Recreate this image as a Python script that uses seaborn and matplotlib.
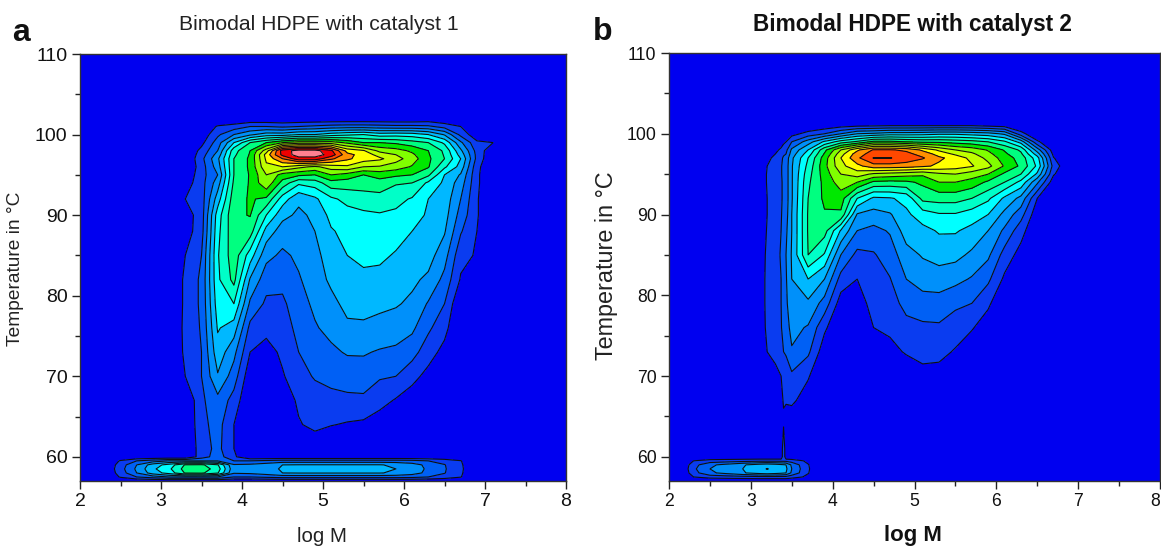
import numpy as np
import seaborn as sns
import matplotlib.pyplot as plt

# temperature rows shared by both maps
temps = [57, 57.5, 58, 58.5, 59, 59.5, 60, 61, 64, 67, 70, 73, 76, 79, 82, 85, 88, 90, 92, 94, 95, 96, 97, 97.5, 98, 99, 100, 101, 102, 110]

# panel a, one list per log M column, in contour level units
logm_a = [2, 2.3, 2.5, 2.7, 2.9, 3.1, 3.3, 3.5, 3.7, 3.9, 4.1, 4.3, 4.5, 4.7, 4.9, 5.1, 5.3, 5.5, 5.7, 5.9, 6.1, 6.3, 6.5, 6.7, 6.9, 7.1, 7.3, 8]
z_a = [
    [0] * 30,
    [0] * 30,
    [0, 1.1, 1.45, 1.6, 1.45, 1.1, 0, 0] + [0] * 22,
    [0, 2, 3.0, 3.2, 3.0, 2, 0, 0] + [0] * 22,
    [0, 2.5, 4.5, 4.8, 4.5, 2.5, 0, 0] + [0] * 22,
    [0, 3, 5.4, 5.8, 5.4, 3, 0, 0] + [0] * 22,
    [0, 3, 7.1, 7.4, 7.1, 3, 0, 0, 0, 0, 1, 1.2, 1.25, 1.2, 1.2, 1, .5, .5, 1, .5, .2, 0, 0, 0, 0, 0, 0, 0, 0, 0],
    [0, 3, 7.2, 7.6, 7.2, 3, 1.5, 1.5, 1.7, 1.8, 2, 2, 2.1, 2.2, 2.2, 2, 1.6, 1.5, 1.5, 1.6, 1.6, 1.5, 1.7, 1.5, 1.3, .7, .3, .2, 0, 0],
    [0, 3, 6.1, 6.5, 6.1, 3, 2.5, 2.3, 2.4, 2.7, 3.9, 4.6, 5.1, 5.5, 5.8, 5.9, 5.7, 5.5, 4.5, 3.5, 3, 3.5, 3.8, 3.4, 3, 2.5, 1.8, 1.1, 0, 0],
    [0, 2, 3.1, 3.3, 3.1, 2, 1.2, 1, 1, 1.6, 2.5, 3.3, 4.5, 6, 7.3, 7.6, 7.7, 7.8, 7.6, 7.2, 7, 7, 7, 6.8, 6.6, 5, 3, 1.4, 0, 0],
    [0, 2, 3.2, 3.4, 3.2, 2, 0, 0, 0, 0, .3, 1, 1.7, 2.8, 3.9, 5.5, 7.5, 8.05, 8.1, 8.1, 8.1, 8.2, 8.2, 8.1, 8, 7, 3.8, 2, 0, 0],
    [0, 2.2, 3.5, 3.7, 3.5, 2.2, 0, 0, 0, 0, 0, .6, 1.3, 1.8, 2.4, 3.3, 4.6, 6, 7.8, 9.8, 10, 10.8, 11.2, 11.4, 10.5, 8, 4.5, 2, 0, 0],
    [0, 2.4, 4, 4.1, 4, 2.4, 0, 0, 0, .3, .9, 1.2, 1.5, 1.8, 2.3, 2.8, 3.5, 4.3, 5.5, 7.6, 8.6, 11, 13, 14.3, 14.5, 9, 4.5, 1.8, 0, 0],
    [0, 2.4, 4.05, 4.2, 4.05, 2.4, 0, 0, .9, 1.2, 1.6, 2, 2.3, 2.6, 2.9, 3.2, 3.5, 3.8, 4.2, 6.2, 8.2, 10.3, 14.6, 15.5, 15.4, 9.5, 5, 2, 0, 0],
    [0, 2.4, 4.05, 4.2, 4.05, 2.4, 0, .2, 1.3, 1.5, 2.1, 2.5, 2.9, 3.2, 3.5, 3.7, 4, 4.2, 4.8, 6.5, 8, 9.8, 14.6, 15.5, 15.4, 9.5, 5, 2.2, 0, 0],
    [0, 2.4, 4.05, 4.2, 4.05, 2.4, 0, 0, 1.05, 1.7, 2.3, 2.8, 3.3, 3.7, 4.2, 4.5, 4.9, 5.3, 5.8, 7.6, 9, 10.5, 13.2, 14.6, 14.2, 9.5, 5.5, 2.4, 0, 0],
    [0, 2.4, 4.05, 4.2, 4.05, 2.4, 0, 0, .9, 1.8, 2.4, 3.1, 3.8, 4.3, 4.7, 5, 5.3, 5.6, 6.3, 7.5, 8.6, 10.8, 12.2, 12.3, 11.6, 8.8, 5.8, 2.5, 0, 0],
    [0, 2.4, 4.05, 4.2, 4.05, 2.4, 0, 0, .8, 1.8, 2.5, 3.1, 3.8, 4.4, 4.9, 5.1, 5.4, 5.8, 6.5, 7.5, 8, 10, 11.5, 11.6, 11.1, 8, 6, 2.5, 0, 0],
    [0, 2.4, 4.05, 4.2, 4.05, 2.4, 0, 0, .4, 1.4, 2.1, 2.9, 3.7, 4.2, 4.7, 5.2, 5.6, 5.9, 6.6, 7.6, 8.4, 9.9, 11.2, 10.6, 9.7, 8, 5.5, 2.4, 0, 0],
    [0, 2.4, 3.85, 4, 3.85, 2.4, 0, 0, 0, .9, 2, 2.8, 3.5, 4.1, 4.5, 4.9, 5.4, 5.8, 6.3, 7.1, 8.2, 9.5, 10.4, 10, 9.4, 7.8, 5.6, 2.3, 0, 0],
    [0, 2.3, 3.45, 3.6, 3.45, 2.3, 0, 0, 0, .5, 1.3, 2.4, 3.2, 3.8, 4.2, 4.6, 5, 5.3, 5.9, 7, 8, 8.9, 9.5, 9.2, 8.8, 7.4, 5.5, 2.3, 0, 0],
    [0, 2, 2.7, 2.8, 2.7, 2, 0, 0, 0, 0, .7, 1.4, 2.2, 2.9, 3.8, 4.4, 4.7, 4.9, 5, 5.8, 7.2, 8.1, 8.2, 8.1, 8, 7, 5, 2.2, .2, 0],
    [0, 1.6, 2.05, 2.1, 2.05, 1.6, 0, 0, 0, 0, 0, .7, 1.3, 2, 2.7, 3.4, 4.1, 4.4, 4.6, 4.8, 5, 6.2, 7, 6.9, 6.8, 5.8, 3.9, 1.6, 0, 0],
    [0, 1.05, 1.15, 1.2, 1.15, 1.05, 0, 0, 0, 0, 0, 0, 0, 0, .9, 1.3, 2.1, 2.6, 3, 3.5, 3.9, 4.6, 5, 4.6, 4.2, 3.2, 1.7, 1, 0, 0],
    [0, 0, 0, 0, 0, 0, 0, 0, 0, 0, 0, 0, 0, 0, 0, .9, 1, 1.1, 1.1, 1.2, 1.2, 1.3, 1.7, 1.7, 1.6, 1.2, .3, 0, 0, 0],
    [0, 0, 0, 0, 0, 0, 0, 0, 0, 0, 0, 0, 0, 0, 0, 0, 0, 0, 0, 0, 0, 0, 0, .1, .3, 1, 0, 0, 0, 0],
    [0] * 30,
    [0] * 30,
]

# panel b
logm_b = [2, 2.15, 2.3, 2.5, 2.7, 2.9, 3.1, 3.2, 3.3, 3.37, 3.4, 3.43, 3.5, 3.7, 3.9, 4.1, 4.3, 4.5, 4.7, 4.9, 5.1, 5.3, 5.5, 5.7, 5.9, 6.1, 6.3, 6.5, 6.7, 6.9, 8]
z_b = [
    [0] * 30,
    [0] * 30,
    [0, 1, 1.6, 1.8, 1.6, 1, 0, 0] + [0] * 22,
    [0, 1.4, 2.8, 3, 2.8, 1.4, 0, 0] + [0] * 22,
    [0, 1.5, 3.3, 3.5, 3.3, 1.5, 0, 0] + [0] * 22,
    [0, 1.6, 3.9, 4, 3.9, 1.6, 0, 0] + [0] * 22,
    [0, 1.7, 4.4, 4.7, 4.4, 1.7, 0, 0] + [0] * 22,
    [0, 1.7, 4.6, 5.05, 4.6, 1.7, 0, 0, 0, 0, .4, 1, 1.3, 1.4, 1.4, 1.3, 1.1, 1, 1, 1.1, 1.1, 1, .8, .6, .4, 0, 0, 0, 0, 0],
    [0, 1.7, 4.4, 4.7, 4.4, 1.7, 0, 0, 0, 0, .7, 1.3, 1.6, 1.7, 1.7, 1.6, 1.4, 1.3, 1.3, 1.5, 1.5, 1.4, 1.2, 1, .8, .3, 0, 0, 0, 0],
    [0, 1.7, 4.2, 4.4, 4.2, 1.7, 0, 0, 0, .85, 1, 1.5, 1.9, 2, 2, 2.1, 2, 1.9, 1.8, 1.8, 1.9, 1.9, 1.7, 1.4, 1.15, .6, 0, 0, 0, 0],
    [0, 1.7, 4.1, 4.3, 4.1, 1.7, 2, 1.9, .9, 1.05, 1.5, 2, 2.5, 2.6, 2.7, 2.8, 2.6, 2.4, 2.3, 2.3, 2.3, 2.3, 2.2, 1.8, 1.5, .8, .1, 0, 0, 0],
    [0, 1.7, 4, 4.2, 4, 1.7, 0, 0, .5, 1.1, 1.5, 2.1, 2.6, 2.8, 2.9, 3, 2.8, 2.6, 2.5, 2.5, 2.5, 2.5, 2.4, 2, 1.7, 1, .2, 0, 0, 0],
    [0, 1.4, 2.8, 3, 2.8, 1.5, 0, 0, .3, 1.2, 1.8, 2.9, 3.3, 3.7, 4, 4.1, 4, 4, 3.9, 3.9, 3.9, 3.9, 3.8, 3.5, 3.2, 2, .6, 0, 0, 0],
    [0, .8, 1.05, 1.1, 1.05, .8, 0, 0, 0, .5, 1.1, 2.2, 2.9, 3.8, 5, 7, 7.1, 7.1, 7, 6.8, 6.6, 6.3, 6, 5.5, 5, 3.5, 1.4, 0, 0, 0],
    [0, 0, 0, 0, 0, 0, 0, 0, 0, 0, 0, .4, 1.2, 2.6, 4, 5.9, 7.4, 7.9, 8.2, 8.3, 8.5, 8.7, 8.5, 8.1, 7.7, 5.2, 2, .3, 0, 0],
    [0, 0, 0, 0, 0, 0, 0, 0, 0, 0, 0, 0, 0, .5, 1.6, 3, 4.9, 7.8, 8.5, 9.5, 10, 10.7, 11, 10.6, 10, 6.5, 3, .6, 0, 0],
    [0, 0, 0, 0, 0, 0, 0, 0, 0, 0, 0, 0, 0, .6, 1, 1.7, 3, 3.9, 6, 9, 10.5, 11.7, 12.8, 12.5, 11.8, 7.2, 4, .8, 0, 0],
    [0, 0, 0, 0, 0, 0, 0, 0, 0, 0, 0, .5, 1, 1.3, 1.6, 1.9, 2.7, 3.6, 4.8, 7.8, 9.8, 12.6, 14.05, 13.5, 13.1, 8.3, 4.2, .9, 0, 0],
    [0, 0, 0, 0, 0, 0, 0, 0, 0, 0, 0, .7, 1.2, 1.6, 1.95, 2.5, 3.1, 3.9, 4.9, 7.7, 9.6, 12.6, 14.05, 13.5, 13.1, 8.3, 4.5, 1, 0, 0],
    [0, 0, 0, 0, 0, 0, 0, 0, 0, 0, .3, 1.1, 1.7, 2.3, 3, 3.6, 4.5, 4.8, 5.3, 7.8, 9.4, 12.5, 13.6, 13.3, 12.8, 8, 4.5, 1, 0, 0],
    [0, 0, 0, 0, 0, 0, 0, 0, 0, 0, .7, 1.3, 1.8, 2.6, 3.4, 4.1, 4.7, 5.5, 7.3, 8.2, 9.2, 12.2, 13.1, 12.6, 11.8, 7.8, 4.6, 1, 0, 0],
    [0, 0, 0, 0, 0, 0, 0, 0, 0, 0, .6, 1.3, 1.85, 2.6, 3.5, 4.4, 5.1, 5.9, 7.4, 9, 9.8, 11.8, 12.2, 11.6, 10.8, 7.8, 4.8, 1, 0, 0],
    [0, 0, 0, 0, 0, 0, 0, 0, 0, 0, 0, .9, 1.5, 2.2, 3.3, 4.3, 5.1, 5.9, 7.4, 9, 10, 11.5, 11.6, 10.8, 10, 7.6, 4.8, 1, 0, 0],
    [0, 0, 0, 0, 0, 0, 0, 0, 0, 0, 0, .3, 1.1, 2, 2.9, 3.8, 4.7, 5.5, 7, 8.6, 9.5, 11.1, 10.7, 10.2, 9.6, 7.4, 4.6, 1, 0, 0],
    [0, 0, 0, 0, 0, 0, 0, 0, 0, 0, 0, 0, .4, 1.2, 2.2, 3.2, 4, 5, 6.2, 7.8, 9, 10.3, 9.7, 9.3, 8.9, 7, 4.4, .8, 0, 0],
    [0, 0, 0, 0, 0, 0, 0, 0, 0, 0, 0, 0, 0, 0, .8, 1.6, 2.8, 3.7, 4.8, 7, 7.8, 8.9, 8.5, 8.2, 7.9, 6.2, 3.8, .6, 0, 0],
    [0, 0, 0, 0, 0, 0, 0, 0, 0, 0, 0, 0, 0, 0, 0, .6, 1.4, 2.4, 3.7, 5.7, 7, 7.8, 7.6, 7.2, 6.8, 4.6, 1.4, 0, 0, 0],
    [0, 0, 0, 0, 0, 0, 0, 0, 0, 0, 0, 0, 0, 0, 0, 0, 0, .3, 1, 3.2, 4.8, 5.8, 5.4, 4.5, 3.5, 1.2, 0, 0, 0, 0],
    [0, 0, 0, 0, 0, 0, 0, 0, 0, 0, 0, 0, 0, 0, 0, 0, 0, 0, 0, .4, 1.1, 1.6, 1.05, .7, .4, 0, 0, 0, 0, 0],
    [0] * 30,
    [0] * 30,
]

band_colors = ['#0000f0', '#0a3cf0', '#0060f5', '#0090fa', '#00b8ff', '#00ffff', '#00ffc8', '#00ff80',
               '#00e800', '#80ff00', '#c0ff00', '#ffff00', '#ff9000', '#ff4800', '#f00000', '#ff8090']
levels = [-1] + list(range(1, 16)) + [17]

sns.set_theme(style='ticks')
plt.rcParams['font.family'] = ['Liberation Sans', 'DejaVu Sans']

W, H = 1161, 547
fig = plt.figure(figsize=(W / 100, H / 100), dpi=100)


def add_panel(left, right, top, bottom, logm, z, tick_size):
    ax = fig.add_axes([left / W, 1 - bottom / H, (right - left) / W, (bottom - top) / H])
    zz = np.array(z).T
    ax.contourf(logm, temps, zz, levels=levels, colors=sns.color_palette(band_colors, 16))
    ax.contour(logm, temps, zz, levels=levels[1:-1], colors='#101010', linewidths=0.8)
    ax.set_xlim(2, 8)
    ax.set_ylim(57, 110)
    ax.set_xticks([2, 3, 4, 5, 6, 7, 8])
    ax.set_xticks(np.arange(2.5, 8, 1), minor=True)
    ax.set_yticks([60, 70, 80, 90, 100, 110])
    ax.set_yticks([65, 75, 85, 95, 105], minor=True)
    ax.tick_params(which='major', length=6, width=1, color='#222222', labelsize=tick_size, labelcolor='#111111', pad=3)
    ax.tick_params(which='minor', length=3.5, width=1, color='#222222')
    for s in ax.spines.values():
        s.set_linewidth(1)
        s.set_color('#333333')
    return ax


ax_a = add_panel(80, 566, 54, 481, logm_a, z_a, 14)
ax_b = add_panel(669, 1160, 53, 481, logm_b, z_b, 12.7)
# last tick label of b ends at the picture edge
ax_b.get_xticklabels()[-1].set_horizontalalignment('right')

fig.text(319 / W, 1 - 24 / H, 'Bimodal HDPE with catalyst 1', ha='center', va='center', fontsize=15.2, color='#222222')
fig.text(912 / W, 1 - 25 / H, 'Bimodal HDPE with catalyst 2', ha='center', va='center', fontsize=16.3, weight='bold', color='#111111')
fig.text(322 / W, 1 - 537 / H, 'log M', ha='center', va='center', fontsize=14.8, color='#222222')
fig.text(913 / W, 1 - 536 / H, 'log M', ha='center', va='center', fontsize=16, weight='bold', color='#111111')
fig.text(16 / W, 1 - 269 / H, 'Temperature in °C', rotation=90, ha='center', va='center', fontsize=13.8, color='#222222')
fig.text(607 / W, 1 - 266 / H, 'Temperature in °C', rotation=90, ha='center', va='center', fontsize=16.8, color='#222222')
fig.text(21 / W, 1 - 33 / H, 'a', ha='center', va='center', fontsize=23, weight='bold', color='#111111')
fig.text(603 / W, 1 - 32 / H, 'b', ha='center', va='center', fontsize=23, weight='bold', color='#111111')

fig.savefig('out.png', dpi=100)
